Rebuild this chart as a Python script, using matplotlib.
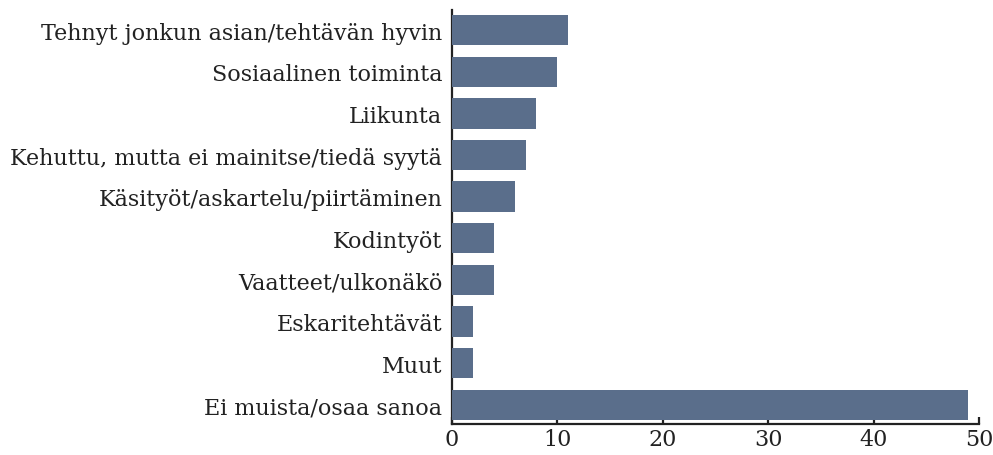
import matplotlib.pyplot as plt
import matplotlib as mpl

mpl.rc('font', family='DejaVu Serif', size=16)

categories = [
    "Tehnyt jonkun asian/tehtävän hyvin",
    "Sosiaalinen toiminta",
    "Liikunta",
    "Kehuttu, mutta ei mainitse/tiedä syytä",
    "Käsityöt/askartelu/piirtäminen",
    "Kodintyöt",
    "Vaatteet/ulkonäkö",
    "Eskaritehtävät",
    "Muut",
    "Ei muista/osaa sanoa",
]
values = [11, 10, 8, 7, 6, 4, 4, 2, 2, 49]
xticks = [0, 10, 20, 30, 40, 50]

bar_color = "#5a6e8b"
text_color = "#222222"

fig = plt.figure(figsize=(9.93, 4.56), dpi=100)
ax = fig.add_axes([452 / 993, 31 / 456, (979 - 452) / 993, (445.3 - 31) / 456])

pos = list(range(len(categories)))
ax.barh(pos, values, height=0.73, color=bar_color, zorder=3)

ax.set_yticks(pos)
ax.set_yticklabels(categories, color=text_color)
ax.set_ylim(len(categories) - 1 + 0.46, -0.49)
ax.set_xlim(0, 50)
ax.set_xticks(xticks)

for s in ['top', 'right']:
    ax.spines[s].set_visible(False)
for s in ['left', 'bottom']:
    ax.spines[s].set_linewidth(1.6)
    ax.spines[s].set_color(text_color)

ax.tick_params(axis='y', length=0, pad=7)
ax.tick_params(axis='x', direction='in', length=5, width=1.6, colors=text_color, pad=3)

plt.savefig("out.png", dpi=100)
